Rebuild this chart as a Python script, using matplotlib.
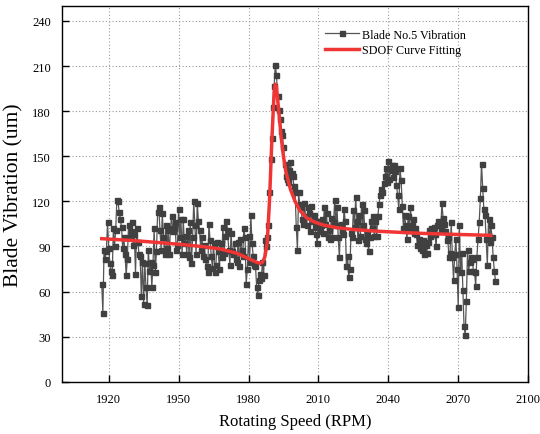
import numpy as np
import matplotlib
matplotlib.use("Agg")
import matplotlib.pyplot as plt

plt.rcParams["font.family"] = ["Liberation Serif", "DejaVu Serif"]

# measured blade vibration, one sample every 0.5 RPM starting at 1917 RPM
RPM_START = 1917.0
RPM_STEP = 0.5
vibration = [
    65, 46, 88, 82, 87, 106, 89, 79, 74, 71,          # 1917
    102, 90, 101, 121, 120, 113, 108, 103, 89, 96,    # 1922
    85, 71, 82, 104, 96, 100, 106, 91, 98, 72,        # 1927
    102, 93, 85, 84, 57, 80, 52, 79, 63, 51,          # 1932
    88, 74, 80, 63, 78, 102, 73, 87, 113, 116,        # 1937
    101, 88, 112, 96, 85, 104, 89, 101, 85, 102,      # 1942
    110, 100, 102, 106, 88, 91, 115, 96, 108, 85,     # 1947
    108, 92, 97, 85, 101, 83, 106, 79, 96, 120,       # 1952
    104, 85, 119, 107, 101, 88, 96, 84, 91, 82,       # 1957
    77, 73, 105, 94, 84, 76, 92, 73, 78, 93,          # 1962
    87, 75, 92, 83, 103, 86, 97, 107, 101, 88,        # 1967
    78, 99, 87, 85, 92, 82, 80, 93, 77, 95,           # 1972
    88, 84, 102, 96, 65, 75, 97, 80, 111, 92,         # 1977
    84, 78, 77, 63, 58, 68, 72, 69, 80, 71,           # 1982
    94, 90, 96, 104, 126, 148, 162, 183, 197, 211,    # 1987
    204, 190, 181, 175, 167, 164, 156, 145, 137, 135, # 1992
    133, 141, 146, 139, 137, 130, 126, 103, 88, 126,  # 1997
    118, 116, 108, 105, 119, 110, 104, 116, 112, 100, # 2002
    117, 107, 111, 103, 98, 92, 107, 100, 104, 108,   # 2007
    99, 116, 105, 112, 96, 101, 95, 109, 96, 106,     # 2012
    121, 104, 116, 96, 83, 105, 101, 98, 115, 107,    # 2017
    77, 84, 70, 75, 99, 96, 114, 103, 123, 107,       # 2022
    94, 111, 97, 118, 104, 114, 95, 92, 98, 87,       # 2027
    96, 107, 102, 110, 97, 107, 97, 110, 118, 124,    # 2032
    128, 126, 132, 137, 142, 133, 147, 135, 141, 144, # 2037
    136, 144, 140, 131, 124, 115, 142, 134, 117, 102, # 2042
    111, 104, 95, 110, 101, 116, 104, 108, 99, 102,   # 2047
    98, 91, 95, 89, 92, 88, 94, 85, 91, 86,           # 2052
    93, 101, 97, 102, 99, 103, 98, 90, 104, 107,      # 2057
    104, 101, 119, 109, 105, 100, 94, 96, 83, 86,     # 2062
    106, 83, 68, 85, 95, 75, 50, 104, 73, 86,         # 2067
    61, 37, 31, 54, 88, 74, 80, 83, 82, 74,           # 2072
    73, 64, 83, 95, 106, 122, 145, 129, 115, 111,     # 2077
    95, 78, 108, 93, 104, 96, 83, 74, 67,             # 2082
]

# SDOF fitted curve
fit_rpm = [1917, 1930, 1940, 1950, 1960, 1968, 1975, 1980, 1983, 1985, 1986,
           1987, 1988, 1989, 1990, 1991, 1991.5, 1992, 1993, 1994, 1995, 1996,
           1998, 2000, 2002, 2005, 2008, 2012, 2018, 2025, 2035, 2045, 2055,
           2065, 2075, 2084]
fit_val = [95.2, 94.0, 92.8, 91.5, 90.0, 88.3, 85.5, 82.0, 79.8, 78.8, 79.5,
           83, 92, 120, 160, 193, 198, 196, 180, 163, 150, 140,
           128, 120, 114, 109, 106.5, 104.3, 102.5, 101.3, 100.2, 99.4, 98.7,
           98.2, 97.8, 97.4]

x_ticks = [1920, 1950, 1980, 2010, 2040, 2070, 2100]
y_ticks = [0, 30, 60, 90, 120, 150, 180, 210, 240]

rpm = RPM_START + RPM_STEP * np.arange(len(vibration))

fig = plt.figure(figsize=(5.4, 4.35), dpi=100)
ax = fig.add_axes([0.115, 0.12, 0.863, 0.864])

ax.plot(rpm, vibration, color="#555555", linewidth=0.9, marker="s",
        markersize=3.6, markerfacecolor="#404040", markeredgecolor="#404040",
        label="Blade No.5 Vibration", zorder=2)
ax.plot(fit_rpm, fit_val, color="#f03535", linewidth=2.5,
        label="SDOF Curve Fitting", zorder=3)

ax.set_xlim(1900, 2100)
ax.set_ylim(0, 250)
ax.set_xticks(x_ticks)
ax.set_yticks(y_ticks)
ax.tick_params(direction="in", length=5, width=1, labelsize=9, pad=8)
ax.grid(True, linestyle=(0, (1, 2)), color="#9a9a9a", linewidth=0.8)
ax.set_axisbelow(True)
for sp in ax.spines.values():
    sp.set_linewidth(1)

ax.set_xlabel("Rotating Speed (RPM)", fontsize=12, labelpad=6)
ax.set_ylabel("Blade Vibration (um)", fontsize=15.5, labelpad=6)

ax.legend(loc="upper left", bbox_to_anchor=(0.565, 0.94), frameon=False,
          fontsize=8.7, handlelength=2.8, handletextpad=0.2, numpoints=1,
          borderpad=0, borderaxespad=0, labelspacing=0.3)

fig.savefig("out.png", dpi=100)
